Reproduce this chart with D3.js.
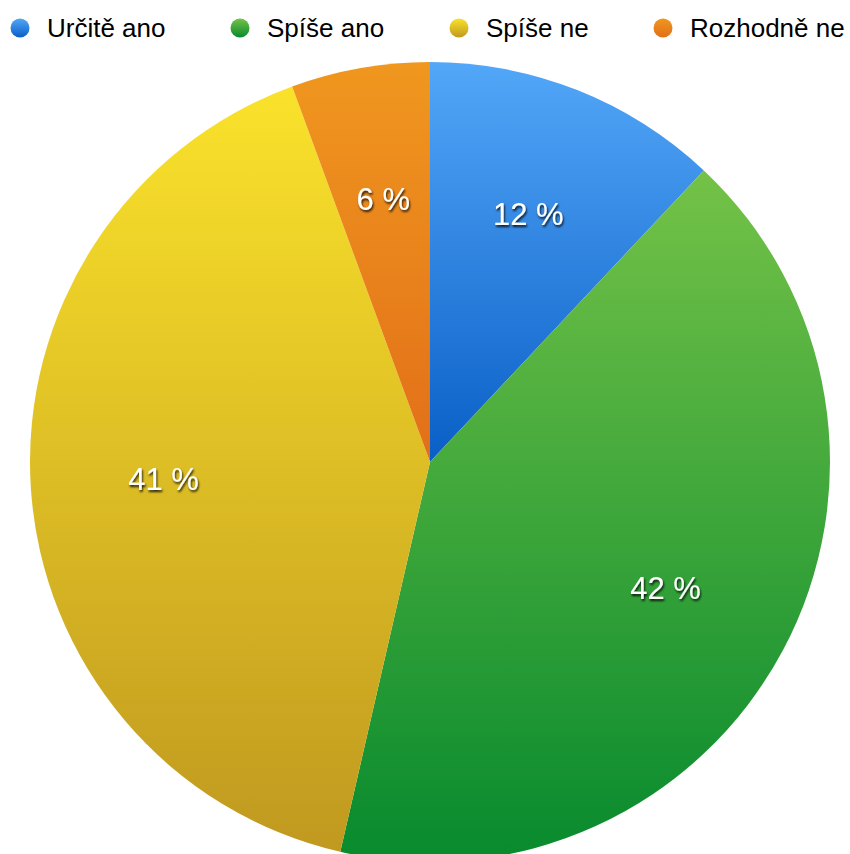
<!DOCTYPE html>
<html><head><meta charset="utf-8">
<script src="https://cdn.jsdelivr.net/npm/d3@7"></script>
<style>html,body{margin:0;padding:0;background:#fff;overflow:hidden}</style>
</head><body>
<svg id="chart" width="850" height="854"></svg>
<script>
const categories = ["Určitě ano", "Spíše ano", "Spíše ne", "Rozhodně ne"];
const values = [12.0, 41.6, 40.8, 5.6];
const colorsTop = ["#53a7f8", "#74c247", "#fae22b", "#f0971f"];
const colorsBottom = ["#0a5fc7", "#078a2e", "#c0991f", "#e26f18"];

const svg = d3.select("#chart");
const defs = svg.append("defs");
categories.forEach((c, i) => {
  const g = defs.append("linearGradient").attr("id", "g" + i)
    .attr("x1", 0).attr("y1", 0).attr("x2", 0).attr("y2", 1);
  g.append("stop").attr("offset", 0).attr("stop-color", colorsTop[i]);
  g.append("stop").attr("offset", 1).attr("stop-color", colorsBottom[i]);
});
const f = defs.append("filter").attr("id", "shadow").attr("x", "-20%").attr("y", "-20%").attr("width", "140%").attr("height", "160%");
f.append("feDropShadow").attr("dx", 1).attr("dy", 2).attr("stdDeviation", 1.3)
  .attr("flood-color", "#000").attr("flood-opacity", 0.85);

const cx = 430, cy = 462, r = 400;
const pie = d3.pie().sort(null).value(d => d)(values);
const arc = d3.arc().innerRadius(0).outerRadius(r);
const labelArc = d3.arc().innerRadius(267).outerRadius(267);

const g = svg.append("g").attr("transform", `translate(${cx},${cy})`);
g.selectAll("path").data(pie).join("path")
  .attr("d", arc)
  .attr("fill", (d, i) => `url(#g${i})`);

g.selectAll("text").data(pie).join("text")
  .attr("transform", d => `translate(${labelArc.centroid(d)})`)
  .attr("text-anchor", "middle")
  .attr("dy", "0.36em")
  .attr("font-family", "Liberation Sans, Arial, sans-serif")
  .attr("font-size", 31)
  .attr("fill", "#fff")
  .attr("filter", "url(#shadow)")
  .text(d => Math.round(d.data) + " %");

// legend
const legendX = d3.scalePoint().domain(categories).range([20, 663]);
const legendTextX = [47, 267, 486, 690];
const lg = svg.append("g").selectAll("g").data(categories).join("g");
const circleX = [20, 240, 459, 663];
lg.append("circle")
  .attr("cx", (d, i) => circleX[i]).attr("cy", 28).attr("r", 9.5)
  .attr("fill", (d, i) => `url(#g${i})`);
lg.append("text")
  .attr("x", (d, i) => legendTextX[i]).attr("y", 37)
  .attr("font-family", "Liberation Sans, Arial, sans-serif")
  .attr("font-size", 26)
  .attr("fill", "#000")
  .text(d => d);
</script>
</body></html>
